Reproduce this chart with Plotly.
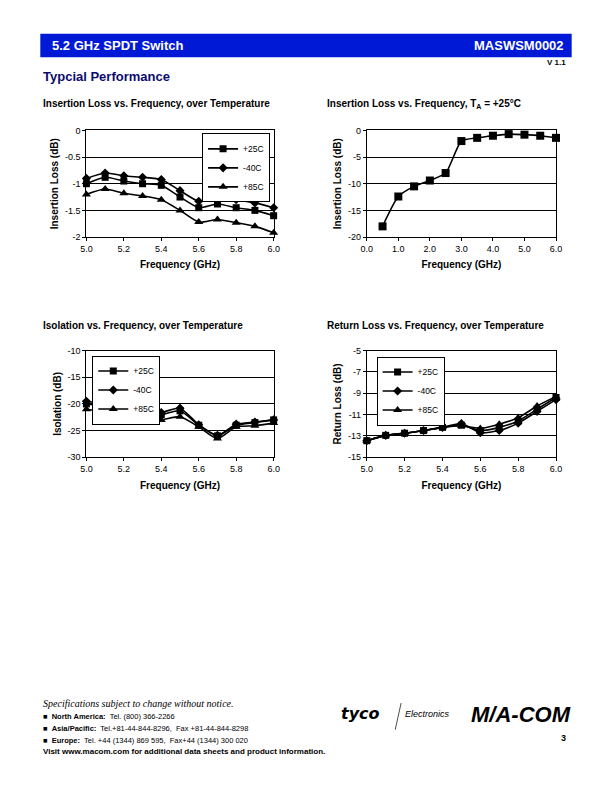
import plotly.graph_objects as go

# ---------------- data ----------------
freq_ghz = [5.0, 5.1, 5.2, 5.3, 5.4, 5.5, 5.6, 5.7, 5.8, 5.9, 6.0]
temps = ["+25C", "-40C", "+85C"]

il_25 = [-1.00, -0.88, -0.95, -1.00, -1.03, -1.25, -1.45, -1.38, -1.45, -1.50, -1.60]
il_m40 = [-0.90, -0.80, -0.85, -0.88, -0.92, -1.13, -1.33, -1.25, -1.30, -1.36, -1.45]
il_85 = [-1.20, -1.10, -1.18, -1.23, -1.30, -1.50, -1.72, -1.67, -1.73, -1.80, -1.92]

wide_freq = [0.5, 1.0, 1.5, 2.0, 2.5, 3.0, 3.5, 4.0, 4.5, 5.0, 5.5, 6.0]
wide_il = [-18.0, -12.4, -10.5, -9.4, -8.0, -2.0, -1.4, -1.0, -0.7, -0.8, -1.0, -1.4]

iso_25 = [-20.0, -20.5, -21.5, -22.0, -22.0, -21.3, -24.0, -26.0, -24.0, -23.5, -23.0]
iso_m40 = [-19.5, -20.1, -21.0, -21.6, -21.6, -20.8, -23.9, -25.9, -23.8, -23.4, -23.0]
iso_85 = [-21.0, -21.6, -22.5, -23.0, -23.0, -22.4, -24.3, -26.5, -24.3, -24.1, -23.6]

rl_25 = [-13.45, -12.95, -12.75, -12.5, -12.2, -12.0, -12.5, -12.2, -11.6, -10.5, -9.4]
rl_m40 = [-13.45, -12.95, -12.75, -12.5, -12.2, -11.85, -12.7, -12.5, -11.8, -10.7, -9.6]
rl_85 = [-13.45, -12.95, -12.75, -12.5, -12.2, -12.05, -12.3, -11.9, -11.3, -10.2, -9.3]

il_ticks = [0, -0.5, -1, -1.5, -2]
wide_ticks = [0, -5, -10, -15, -20]
iso_ticks = [-10, -15, -20, -25, -30]
rl_ticks = [-5, -7, -9, -11, -13, -15]
narrow_xticks = [5.0, 5.2, 5.4, 5.6, 5.8, 6.0]
wide_xticks = [0.0, 1.0, 2.0, 3.0, 4.0, 5.0, 6.0]

# ---------------- figure ----------------
W, H = 612, 792
FONT = "Liberation Sans, Arial, sans-serif"
symbols = {"+25C": "square", "-40C": "diamond", "+85C": "triangle-up"}
msizes = {"+25C": 7, "-40C": 7, "+85C": 8}

fig = go.Figure()


def px_x(p):
    return p / W


def px_y(p):
    return 1 - p / H


def add_series(x, ys, xa, ya, leg, show):
    for name, y in zip(temps, ys):
        fig.add_trace(go.Scatter(
            x=x, y=y, name=name, mode="lines+markers",
            line=dict(color="black", width=1.6, shape="spline", smoothing=0.6),
            marker=dict(symbol=symbols[name], size=msizes[name], color="black"),
            xaxis=xa, yaxis=ya, legend=leg, showlegend=show, cliponaxis=False,
        ))


add_series(freq_ghz, [il_25, il_m40, il_85], "x", "y", "legend", True)
fig.add_trace(go.Scatter(
    x=wide_freq, y=wide_il, mode="lines+markers", showlegend=False,
    line=dict(color="black", width=1.6, shape="spline", smoothing=0.6),
    marker=dict(symbol="square", size=8, color="black"),
    xaxis="x2", yaxis="y2", cliponaxis=False,
))
add_series(freq_ghz, [iso_25, iso_m40, iso_85], "x3", "y3", "legend2", True)
add_series(freq_ghz, [rl_25, rl_m40, rl_85], "x4", "y4", "legend3", True)

tickfont = dict(family=FONT, size=9, color="black")
titlefont = dict(family=FONT, size=10, color="black")


def xaxis(dom, rng, ticks, anchor):
    return dict(domain=dom, range=rng, tickvals=ticks, tickformat=".1f",
                showline=True, linecolor="black", linewidth=1, mirror=True,
                ticks="outside", ticklen=3, tickcolor="black", showgrid=False,
                zeroline=False, tickfont=tickfont, anchor=anchor,
                title=dict(text="<b>Frequency (GHz)</b>", font=titlefont, standoff=8))


def yaxis(dom, rng, ticks, title, anchor):
    return dict(domain=dom, range=rng, tickvals=ticks,
                ticktext=[("%g" % t) for t in ticks],
                showline=True, linecolor="black", linewidth=1, mirror=True,
                ticks="outside", ticklen=3, tickcolor="black",
                showgrid=True, gridcolor="black", gridwidth=1,
                zeroline=False, tickfont=tickfont, anchor=anchor,
                title=dict(text="<b>%s</b>" % title, font=titlefont, standoff=4))


top_dom = [px_y(235), px_y(127)]
bot_dom = [px_y(458), px_y(350)]
left_dom = [px_x(82), px_x(273)]
right_dom = [px_x(368), px_x(561)]

legend_common = dict(bordercolor="black", borderwidth=1, bgcolor="white",
                     font=dict(family=FONT, size=8.5, color="black"),
                     xanchor="left", yanchor="top", tracegroupgap=0,
                     itemwidth=30)

fig.update_layout(
    width=W, height=H, margin=dict(l=0, r=0, t=0, b=0),
    paper_bgcolor="white", plot_bgcolor="white",
    font=dict(family=FONT, color="black"),
    xaxis=xaxis(left_dom, [5.0, 6.0], narrow_xticks, "y"),
    yaxis=yaxis(top_dom, [-2, 0], il_ticks, "Insertion Loss (dB)", "x"),
    xaxis2=xaxis(right_dom, [0.0, 6.0], wide_xticks, "y2"),
    yaxis2=yaxis(top_dom, [-20, 0], wide_ticks, "Insertion Loss (dB)", "x2"),
    xaxis3=xaxis(left_dom, [5.0, 6.0], narrow_xticks, "y3"),
    yaxis3=yaxis(bot_dom, [-30, -10], iso_ticks, "Isolation (dB)", "x3"),
    xaxis4=xaxis(right_dom, [5.0, 6.0], narrow_xticks, "y4"),
    yaxis4=yaxis(bot_dom, [-15, -5], rl_ticks, "Return Loss (dB)", "x4"),
    legend=dict(x=px_x(200), y=px_y(130), **legend_common),
    legend2=dict(x=px_x(88), y=px_y(355), **legend_common),
    legend3=dict(x=px_x(378), y=px_y(356), **legend_common),
)

# ---------------- page decorations ----------------
shapes = [
    dict(type="rect", xref="paper", yref="paper", x0=px_x(35), x1=px_x(577),
         y0=px_y(53), y1=px_y(29), fillcolor="#0019d6", line=dict(width=0), layer="below"),
    dict(type="line", xref="paper", yref="paper", x0=px_x(403), x1=px_x(397),
         y0=px_y(707), y1=px_y(734), line=dict(color="black", width=0.7)),
]
fig.update_layout(shapes=shapes)


def ann(text, x, y, size, color="black", xanchor="left", yanchor="middle", family=FONT):
    fig.add_annotation(text=text, xref="paper", yref="paper", x=px_x(x), y=px_y(y),
                       xanchor=xanchor, yanchor=yanchor, showarrow=False,
                       font=dict(family=family, size=size, color=color))


ann("<b>5.2 GHz SPDT Switch</b>", 45, 41, 13, "white")
ann("<b>MASWSM0002</b>", 571, 41, 13, "white", xanchor="right")
ann("<b>V 1.1</b>", 573, 58, 8, xanchor="right")
ann("<b>Typcial Performance</b>", 36, 72, 13, "#0b0b6e")

ann("<b>Insertion Loss vs. Frequency, over Temperature</b>", 36, 100, 10)
ann("<b>Insertion Loss vs. Frequency, T<sub>A</sub> = +25°C</b>", 325, 100, 10)
ann("<b>Isolation vs. Frequency, over Temperature</b>", 36, 325, 10)
ann("<b>Return Loss vs. Frequency, over Temperature</b>", 325, 325, 10)

SERIF = "Liberation Serif, Times New Roman, serif"
ann("<i>Specifications subject to change without notice.</i>", 36, 707, 10, family=SERIF)
ann("■  <b>North America:</b>  Tel. (800) 366-2266", 36, 721, 7.5)
ann("■  <b>Asia/Pacific:</b>  Tel.+81-44-844-8296,  Fax +81-44-844-8298", 36, 733, 7.5)
ann("■  <b>Europe:</b>  Tel. +44 (1344) 869 595,  Fax+44 (1344) 300 020", 36, 745, 7.5)
ann("<b>Visit www.macom.com for additional data sheets and product information.</b>", 36, 756, 8)

ann("<b><i>tyco</i></b>", 340, 718, 16, family="DejaVu Sans, sans-serif")
ann("<i>Electronics</i>", 405, 718, 9)
ann("<b><i>M/A-COM</i></b>", 578, 719, 22, xanchor="right")
ann("<b>3</b>", 573, 742, 9, xanchor="right")

fig.write_html(
    "out.html",
    config={"displayModeBar": False},
    post_script="document.documentElement.style.margin='0';"
                "document.body.style.margin='0';document.body.style.overflow='hidden';",
)
